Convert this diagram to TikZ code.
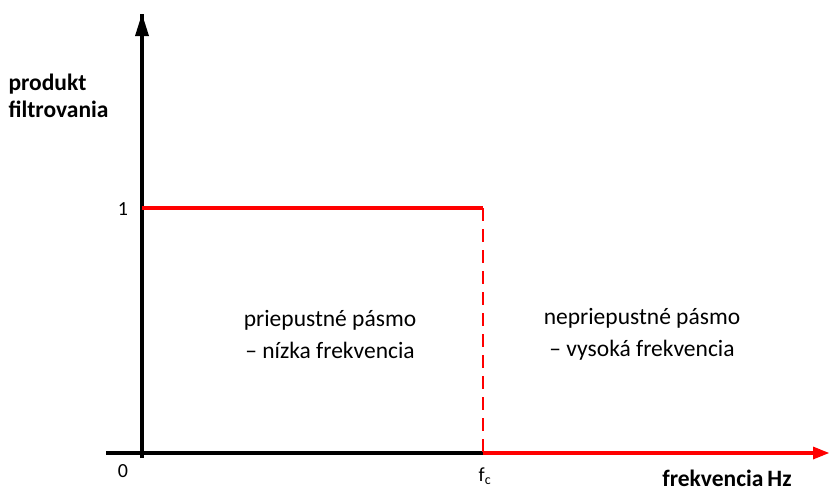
\documentclass[tikz,border=0pt]{standalone}
\usepackage{fontspec}
\setmainfont{Carlito}
\usetikzlibrary{arrows.meta}
\tikzset{axis/.style={line width=3.5pt},
	band/.style={font=\fontsize{23.5}{32}\selectfont, align=center},
	tick/.style={font=\fontsize{20}{20}\selectfont},
	axlabel/.style={font=\bfseries\fontsize{23.5}{27}\selectfont}}

\begin{document}
\begin{tikzpicture}[x=1pt,y=-1pt]
	\useasboundingbox (0,0) rectangle (829,493);
	\coordinate (O) at (142,453);
	\coordinate (Ytop) at (142,14);
	\coordinate (Ybot) at (142,458);
	\coordinate (Xleft) at (106,453);
	\coordinate (C) at (483,453);
	\coordinate (Xright) at (829,453);
	\coordinate (P) at (142,208);
	\coordinate (Q) at (483,208);
	\draw[axis] (Ybot) -- (Ytop);
	\fill (Ytop) -- ++(-7,22) -- ++(14,0) -- cycle;
	\draw[axis] (Xleft) -- (C);
	\draw[axis, red] (C) -- (816,453);
	\fill[red] (Xright) -- ++(-16,-6.5) -- ++(0,13) -- cycle;
	\draw[axis, red] (P) -- (Q);
	\draw[red, line width=2pt, dash pattern=on 13pt off 8pt] (Q) -- (C);
	\node[tick] (one) at (123,209) {1};
	\node[tick] (zero) at (123,471) {0};
	\node[tick] (fc) at (485,476) {f\textsubscript{c}};
	\node[band] (pass) at (330,334) {priepustné pásmo\\– nízka frekvencia};
	\node[band] (stop) at (642,334) {nepriepustné pásmo\\– vysoká frekvencia};
	\node[axlabel, align=left, anchor=west] (ylab) at (5,96) {produkt\\filtrovania};
	\node[axlabel] (xlab) at (727,478) {frekvencia\,Hz};
\end{tikzpicture}
\end{document}
